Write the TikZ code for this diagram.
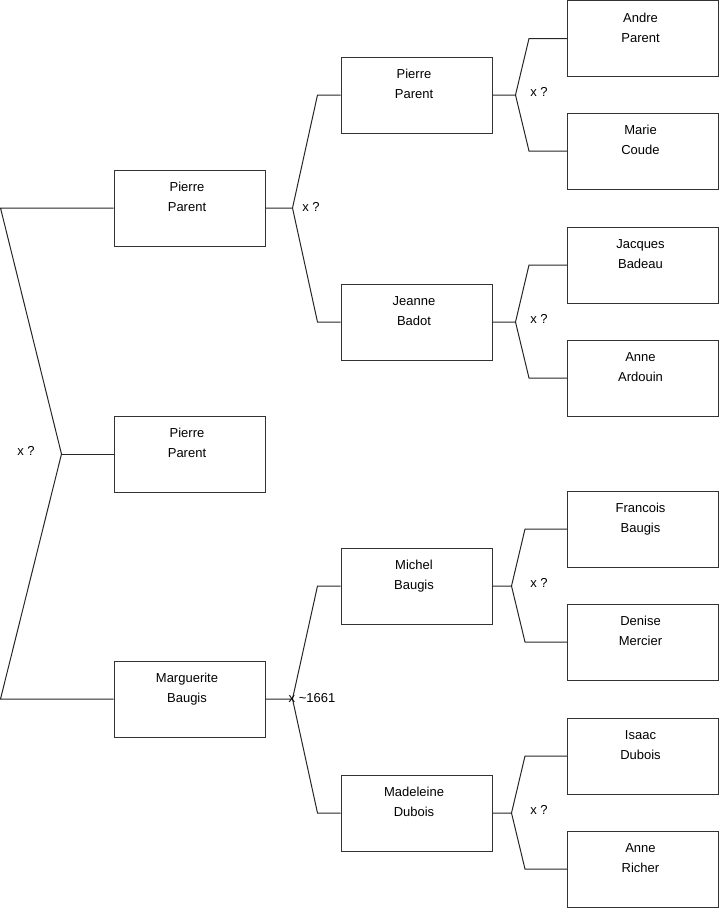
\documentclass[tikz,border=0pt]{standalone}
\usepackage{fontspec}
\setmainfont{Liberation Sans}
\usetikzlibrary{positioning}
\tikzset{
  person/.style={draw=black!80, line width=1pt, minimum width=151pt,
                 minimum height=76pt, inner sep=0pt,
                 label={[anchor=north, align=center, inner sep=0pt, yshift=-12.5pt,
                         xshift=-2.5pt, font=\fontsize{13}{20}\selectfont]north:{#1}}},
  fork/.style  ={draw=black!85, line width=1pt},
  xlbl/.style  ={font=\fontsize{13}{15}\selectfont, inner sep=0pt},
}

\begin{document}
\begin{tikzpicture}[x=1pt, y=-1pt]
  \useasboundingbox (0,0) rectangle (719,908);
  % generation 1
  \node[person={Pierre\\Parent}] (g1a) at (189.5,208) {};
  \node[person={Pierre\\Parent}] (g1b) at (189.5,454) {};
  \node[person={Marguerite\\Baugis}] (g1c) at (189.5,699) {};
  % generation 2
  \node[person={Pierre\\Parent}] (g2a) at (416.5,95) {};
  \node[person={Jeanne\\Badot}] (g2b) at (416.5,322) {};
  \node[person={Michel\\Baugis}] (g2c) at (416.5,586) {};
  \node[person={Madeleine\\Dubois}] (g2d) at (416.5,813) {};
  % generation 3
  \node[person={Andre\\Parent}] (g3a) at (643,38.5) {};
  \node[person={Marie\\Coude}] (g3b) at (643,151) {};
  \node[person={Jacques\\Badeau}] (g3c) at (643,265) {};
  \node[person={Anne\\Ardouin}] (g3d) at (643,378) {};
  \node[person={Francois\\Baugis}] (g3e) at (643,529) {};
  \node[person={Denise\\Mercier}] (g3f) at (643,642) {};
  \node[person={Isaac\\Dubois}] (g3g) at (643,756) {};
  \node[person={Anne\\Richer}] (g3h) at (643,869) {};

  % left fork
  \coordinate (l1) at (0.5,208);
  \coordinate (l2) at (0.5,699);
  \coordinate (j0) at ([xshift=-52pt]g1b.west);
  \draw[fork] (g1a.west) -- (l1) -- (j0) -- (l2) -- (g1c.west);
  \draw[fork] (j0) -- (g1b.west);
  \node[xlbl] (x0) at (26,451) {x ?};

  % generation 1 to 2
  \coordinate (j1) at ([xshift=27pt]g1a.east);
  \draw[fork] (g1a.east) -- (j1) -- ([xshift=-23pt]g2a.west) -- (g2a.west);
  \draw[fork] (j1) -- ([xshift=-23pt]g2b.west) -- (g2b.west);
  \node[xlbl] (x1) at (311,207) {x ?};
  \coordinate (j2) at ([xshift=27pt]g1c.east);
  \draw[fork] (g1c.east) -- (j2) -- ([xshift=-23pt]g2c.west) -- (g2c.west);
  \draw[fork] (j2) -- ([xshift=-23pt]g2d.west) -- (g2d.west);
  \node[xlbl, anchor=west] (x2) at (288.5,698) {x \textasciitilde 1661};

  % generation 2 to 3
  \coordinate (j3) at ([xshift=23pt]g2a.east);
  \draw[fork] (g2a.east) -- (j3) -- ([xshift=-38pt]g3a.west) -- (g3a.west);
  \draw[fork] (j3) -- ([xshift=-38pt]g3b.west) -- (g3b.west);
  \node[xlbl] (x3) at (539,92) {x ?};
  \coordinate (j4) at ([xshift=23pt]g2b.east);
  \draw[fork] (g2b.east) -- (j4) -- ([xshift=-38pt]g3c.west) -- (g3c.west);
  \draw[fork] (j4) -- ([xshift=-38pt]g3d.west) -- (g3d.west);
  \node[xlbl] (x4) at (539,319) {x ?};
  \coordinate (j5) at ([xshift=19pt]g2c.east);
  \draw[fork] (g2c.east) -- (j5) -- ([xshift=-42pt]g3e.west) -- (g3e.west);
  \draw[fork] (j5) -- ([xshift=-42pt]g3f.west) -- (g3f.west);
  \node[xlbl] (x5) at (539,583) {x ?};
  \coordinate (j6) at ([xshift=19pt]g2d.east);
  \draw[fork] (g2d.east) -- (j6) -- ([xshift=-42pt]g3g.west) -- (g3g.west);
  \draw[fork] (j6) -- ([xshift=-42pt]g3h.west) -- (g3h.west);
  \node[xlbl] (x6) at (539,810) {x ?};
\end{tikzpicture}
\end{document}
